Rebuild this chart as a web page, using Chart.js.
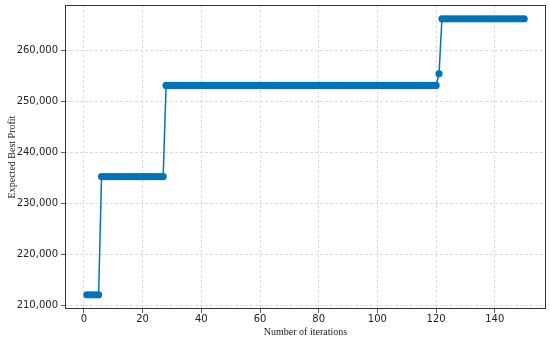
<!DOCTYPE html>
<html>
<head>
<meta charset="utf-8">
<script src="https://cdn.jsdelivr.net/npm/chart.js@4/dist/chart.umd.min.js"></script>
<style>
  html, body { margin: 0; padding: 0; background: #fff; }
</style>
</head>
<body>
<canvas id="chart" width="550" height="339"></canvas>
<script>
// ---- data ----
const iterations = [
    1, 2, 3, 4, 5, 6, 7, 8, 9, 10,
    11, 12, 13, 14, 15, 16, 17, 18, 19, 20,
    21, 22, 23, 24, 25, 26, 27, 28, 29, 30,
    31, 32, 33, 34, 35, 36, 37, 38, 39, 40,
    41, 42, 43, 44, 45, 46, 47, 48, 49, 50,
    51, 52, 53, 54, 55, 56, 57, 58, 59, 60,
    61, 62, 63, 64, 65, 66, 67, 68, 69, 70,
    71, 72, 73, 74, 75, 76, 77, 78, 79, 80,
    81, 82, 83, 84, 85, 86, 87, 88, 89, 90,
    91, 92, 93, 94, 95, 96, 97, 98, 99, 100,
    101, 102, 103, 104, 105, 106, 107, 108, 109, 110,
    111, 112, 113, 114, 115, 116, 117, 118, 119, 120,
    121, 122, 123, 124, 125, 126, 127, 128, 129, 130,
    131, 132, 133, 134, 135, 136, 137, 138, 139, 140,
    141, 142, 143, 144, 145, 146, 147, 148, 149, 150
];

const bestProfit = [
    212100, 212100, 212100, 212100, 212100, 235300, 235300, 235300, 235300, 235300,
    235300, 235300, 235300, 235300, 235300, 235300, 235300, 235300, 235300, 235300,
    235300, 235300, 235300, 235300, 235300, 235300, 235300, 253200, 253200, 253200,
    253200, 253200, 253200, 253200, 253200, 253200, 253200, 253200, 253200, 253200,
    253200, 253200, 253200, 253200, 253200, 253200, 253200, 253200, 253200, 253200,
    253200, 253200, 253200, 253200, 253200, 253200, 253200, 253200, 253200, 253200,
    253200, 253200, 253200, 253200, 253200, 253200, 253200, 253200, 253200, 253200,
    253200, 253200, 253200, 253200, 253200, 253200, 253200, 253200, 253200, 253200,
    253200, 253200, 253200, 253200, 253200, 253200, 253200, 253200, 253200, 253200,
    253200, 253200, 253200, 253200, 253200, 253200, 253200, 253200, 253200, 253200,
    253200, 253200, 253200, 253200, 253200, 253200, 253200, 253200, 253200, 253200,
    253200, 253200, 253200, 253200, 253200, 253200, 253200, 253200, 253200, 253200,
    255500, 266300, 266300, 266300, 266300, 266300, 266300, 266300, 266300, 266300,
    266300, 266300, 266300, 266300, 266300, 266300, 266300, 266300, 266300, 266300,
    266300, 266300, 266300, 266300, 266300, 266300, 266300, 266300, 266300, 266300
];

const xTicks = [0, 20, 40, 60, 80, 100, 120, 140];
const yTicks = [210000, 220000, 230000, 240000, 250000, 260000];

const lineColor = '#0174b8';
const gridColor = '#d2d2d2';
const frameColor = '#333333';

// cadre noir autour de la zone de tracé (comme les spines matplotlib)
const framePlugin = {
    id: 'frame',
    afterDatasetsDraw(chart) {
        const a = chart.chartArea;
        const ctx = chart.ctx;
        ctx.save();
        ctx.strokeStyle = frameColor;
        ctx.lineWidth = 1;
        ctx.strokeRect(a.left + 0.5, a.top + 0.5, a.right - a.left - 1, a.bottom - a.top - 1);
        ctx.restore();
    }
};

new Chart(document.getElementById('chart'), {
    type: 'line',
    data: {
        labels: iterations,
        datasets: [{
            data: bestProfit,
            borderColor: lineColor,
            backgroundColor: lineColor,
            borderWidth: 1.5,
            pointRadius: 3.6,
            pointBorderWidth: 0,
            pointBackgroundColor: lineColor,
            tension: 0
        }]
    },
    options: {
        responsive: false,
        animation: false,
        layout: {
            padding: { top: 5, right: 2, left: 0, bottom: 0 }
        },
        plugins: {
            legend: { display: false },
            tooltip: { enabled: false }
        },
        scales: {
            x: {
                type: 'linear',
                min: -6.45,
                max: 157.45,
                afterBuildTicks: s => { s.ticks = xTicks.map(v => ({ value: v })); },
                afterFit: s => {
                    s.height = 30;
                    s.paddingLeft = 0;
                    s.paddingRight = 0;
                },
                grid: {
                    color: gridColor,
                    lineWidth: 0.8,
                    borderDash: [3, 2],
                    tickColor: frameColor,
                    tickLength: 4,
                    tickBorderDash: []
                },
                border: { display: false, dash: [3, 2] },
                ticks: {
                    padding: 0,
                    color: '#222',
                    maxRotation: 0,
                    font: { family: 'DejaVu Sans', size: 10 }
                },
                title: {
                    display: true,
                    text: 'Number of iterations',
                    color: '#222',
                    padding: { top: 0, bottom: 1 },
                    font: { family: 'Liberation Serif', size: 10 }
                }
            },
            y: {
                min: 209300,
                max: 269000,
                afterBuildTicks: s => { s.ticks = yTicks.map(v => ({ value: v })); },
                afterFit: s => {
                    s.width = 65;
                    s.paddingTop = 0;
                    s.paddingBottom = 0;
                },
                grid: {
                    color: gridColor,
                    lineWidth: 0.8,
                    borderDash: [3, 2],
                    tickColor: frameColor,
                    tickLength: 4,
                    tickBorderDash: []
                },
                border: { display: false, dash: [3, 2] },
                ticks: {
                    padding: 3,
                    color: '#222',
                    font: { family: 'DejaVu Sans', size: 10 },
                    callback: v => v.toLocaleString('en-US')
                },
                title: {
                    display: true,
                    text: 'Expected Best Profit',
                    color: '#222',
                    padding: { top: 6, bottom: 0 },
                    font: { family: 'Liberation Serif', size: 10 }
                }
            }
        }
    },
    plugins: [framePlugin]
});
</script>
</body>
</html>
